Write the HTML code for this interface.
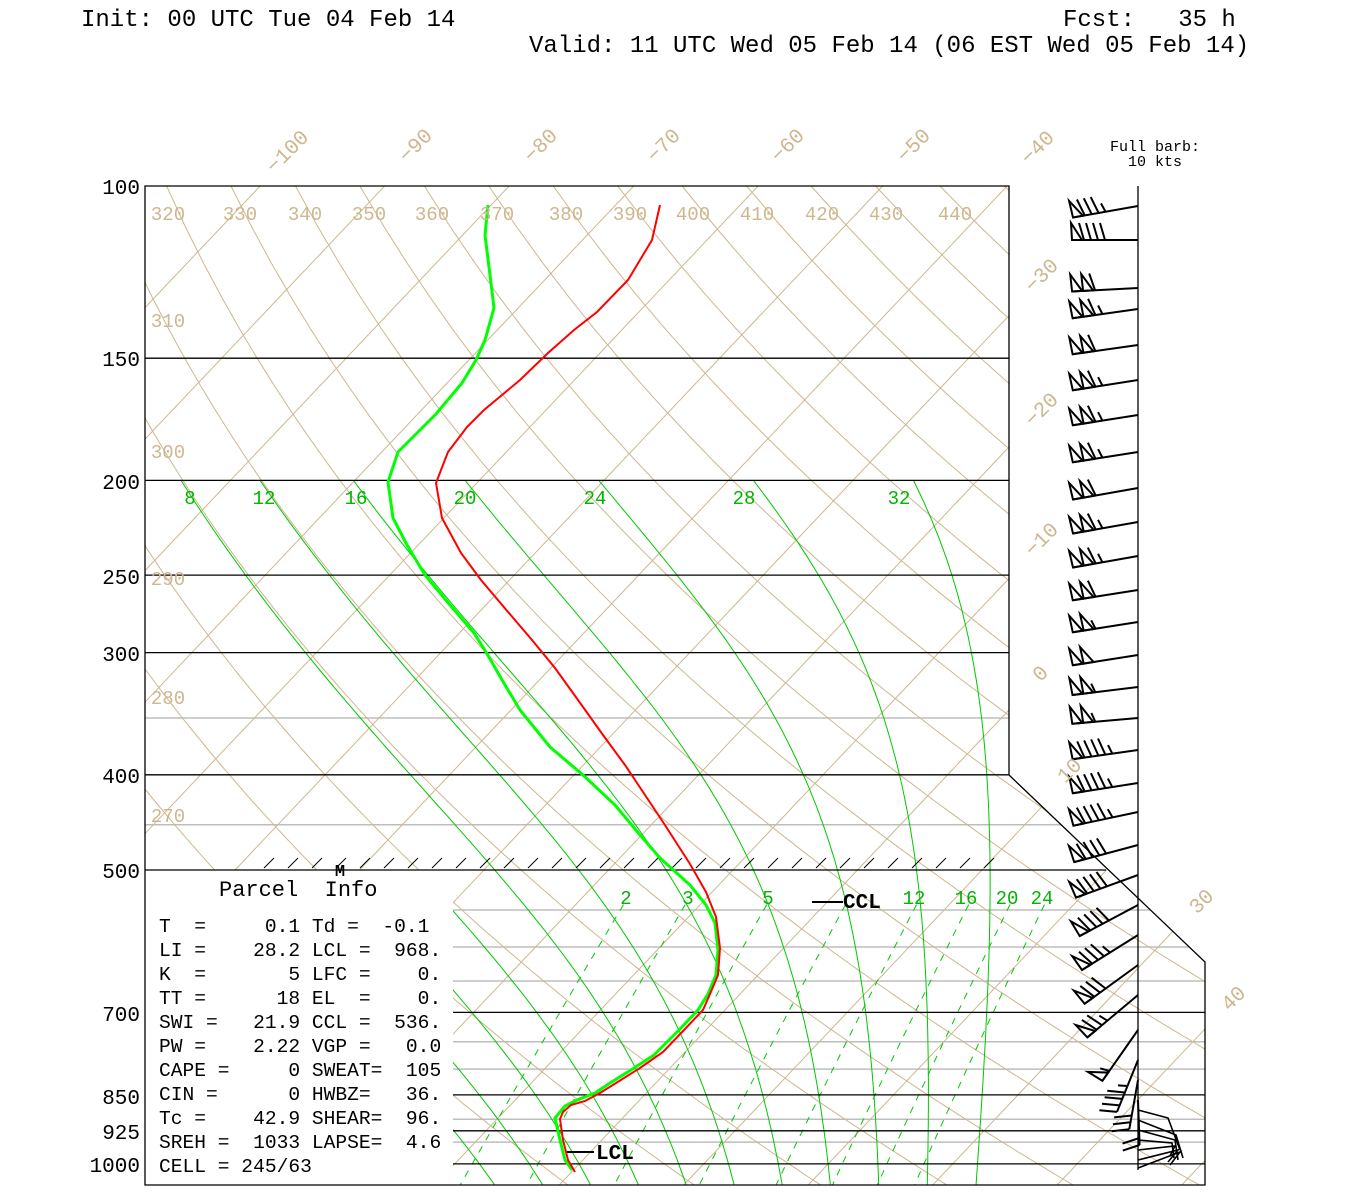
<!DOCTYPE html>
<html><head><meta charset="utf-8"><style>
html,body{margin:0;padding:0;background:#fff;width:1350px;height:1200px;overflow:hidden}
svg text{font-family:"Liberation Mono",monospace;white-space:pre}
</style></head><body>
<svg id="s" xmlns="http://www.w3.org/2000/svg" width="1350" height="1200" viewBox="0 0 1350 1200">
<defs>
<clipPath id="cp"><path d="M145,186 L1009,186 L1009,775 L1205,962 L1205,1185 L453,1185 L453,870 L145,870 Z"/></clipPath>
<clipPath id="cl"><path d="M453,870 L1112,870 L1205,962 L1205,1185 L453,1185 Z"/></clipPath>
</defs>
<g id="bg" clip-path="url(#cp)"></g>
<g id="low" clip-path="url(#cl)"></g>
<g id="frame" fill="none" stroke="#000" stroke-width="1.3"></g>
<g id="prof"></g>
<g id="barbs" stroke="#000" stroke-width="2" fill="none" stroke-linejoin="miter"></g>

<g font-size="24" fill="#000">
<text x="81" y="26">Init: 00 UTC Tue 04 Feb 14</text>
<text x="1063" y="26">Fcst:   35 h</text>
<text x="529" y="52">Valid: 11 UTC Wed 05 Feb 14 (06 EST Wed 05 Feb 14)</text>
</g>
<g font-size="15" fill="#000" text-anchor="middle">
<text x="1155" y="151">Full barb:</text>
<text x="1155" y="166">10 kts</text>
</g>
<g font-size="21" fill="#000" text-anchor="end">
<text x="140" y="194">100</text>
<text x="140" y="366">150</text>
<text x="140" y="489">200</text>
<text x="140" y="584">250</text>
<text x="140" y="661">300</text>
<text x="140" y="783">400</text>
<text x="140" y="878">500</text>
<text x="140" y="1021">700</text>
<text x="140" y="1104">850</text>
<text x="140" y="1139">925</text>
<text x="140" y="1172">1000</text>
</g>
<g font-size="19" fill="#cdb78e" text-anchor="middle">
<text x="168" y="220">320</text><text x="240" y="220">330</text><text x="305" y="220">340</text>
<text x="369" y="220">350</text><text x="432" y="220">360</text><text x="497" y="220">370</text>
<text x="566" y="220">380</text><text x="630" y="220">390</text><text x="693" y="220">400</text>
<text x="757" y="220">410</text><text x="822" y="220">420</text><text x="886" y="220">430</text>
<text x="955" y="220">440</text>
<text x="168" y="327">310</text><text x="168" y="458">300</text><text x="168" y="585">290</text>
<text x="168" y="704">280</text><text x="168" y="822">270</text>
</g>
<g font-size="21" fill="#cdb78e" text-anchor="middle">
<text transform="translate(292,156) rotate(-45)">−100</text>
<text transform="translate(420,150) rotate(-45)">−90</text>
<text transform="translate(545,150) rotate(-45)">−80</text>
<text transform="translate(668,150) rotate(-45)">−70</text>
<text transform="translate(792,150) rotate(-45)">−60</text>
<text transform="translate(918,150) rotate(-45)">−50</text>
<text transform="translate(1042,152) rotate(-45)">−40</text>
<text transform="translate(1046,280) rotate(-45)">−30</text>
<text transform="translate(1046,414) rotate(-45)">−20</text>
<text transform="translate(1046,544) rotate(-45)">−10</text>
<text transform="translate(1045,678) rotate(-45)">0</text>
<text transform="translate(1074,775) rotate(-45)">10</text>
<text transform="translate(1206,906) rotate(-45)">30</text>
<text transform="translate(1238,1003) rotate(-45)">40</text>
</g>
<g font-size="19" fill="#00b400" text-anchor="middle">
<text x="190" y="504">8</text><text x="264" y="504">12</text><text x="356" y="504">16</text>
<text x="465" y="504">20</text><text x="595" y="504">24</text><text x="744" y="504">28</text>
<text x="899" y="504">32</text>
<text x="626" y="904">2</text><text x="688" y="904">3</text><text x="768" y="904">5</text>
<text x="914" y="904">12</text><text x="966" y="904">16</text><text x="1007" y="904">20</text>
<text x="1042" y="904">24</text>
</g>
<g fill="#000">
<text x="843" y="908" font-size="21" font-weight="bold" font-family="Liberation Serif">CCL</text>
<text x="596" y="1159" font-size="21" font-weight="bold" font-family="Liberation Serif">LCL</text>
<text x="340" y="876" font-size="17" font-weight="bold" font-family="Liberation Serif" text-anchor="middle">M</text>
<text x="219" y="896" font-size="22">Parcel  Info</text>
</g>
<g font-size="19.6" fill="#000">
<text x="159" y="932">T  =     0.1 Td =  -0.1</text>
<text x="159" y="956">LI =    28.2 LCL =  968.</text>
<text x="159" y="980">K  =       5 LFC =    0.</text>
<text x="159" y="1004">TT =      18 EL  =    0.</text>
<text x="159" y="1028">SWI =   21.9 CCL =  536.</text>
<text x="159" y="1052">PW =    2.22 VGP =   0.0</text>
<text x="159" y="1076">CAPE =     0 SWEAT=  105</text>
<text x="159" y="1100">CIN =      0 HWBZ=   36.</text>
<text x="159" y="1124">Tc =    42.9 SHEAR=  96.</text>
<text x="159" y="1148">SREH =  1033 LAPSE=  4.6</text>
<text x="159" y="1172">CELL = 245/63</text>
</g>
</svg>
<script>
(function(){
var NS="http://www.w3.org/2000/svg";
function el(p,t,a){var e=document.createElementNS(NS,t);for(var k in a)e.setAttribute(k,a[k]);p.appendChild(e);return e;}
function Y(p){return 186+424.7*Math.log(p/100);}
function X(T,p){return 579+12.45*T+0.947*(1164-Y(p));}
var bg=document.getElementById('bg'),low=document.getElementById('low'),fr=document.getElementById('frame');
var tan="#cdb78e",grn="#00c800",gray="#bdbdbd";
function poly(g,pts,st,w,dash){var d=pts.map(function(q,i){return (i?'L':'M')+q[0].toFixed(1)+','+q[1].toFixed(1);}).join('');
 var a={d:d,fill:'none',stroke:st,'stroke-width':w};if(dash)a['stroke-dasharray']=dash;return el(g,'path',a);}
[350,450].forEach(function(p){poly(bg,[[145,Y(p)],[1205,Y(p)]],gray,1.5);});
[550,600,650,750,800,900,950].forEach(function(p){poly(bg,[[453,Y(p)],[1205,Y(p)]],gray,1.5);});
for(var T=-140;T<=60;T+=10){poly(bg,[[X(T,1060),Y(1060)],[X(T,90),Y(90)]],tan,1);}
for(var th=230;th<=470;th+=10){var pts=[];for(var p=1060;p>=95;p-=10){pts.push([X(th*Math.pow(p/1000,0.286)-273.15,p),Y(p)]);}poly(bg,pts,tan,1);}
function es(T){return 6.112*Math.exp(17.67*T/(T+243.5));}
function moist(tw,ptop){var Rd=287,cp=1004,Lv=2.5e6,eps=0.622;
 function step(T,p,dp){var Tk=T+273.15,rs=eps*es(T)/(p-es(T));var g=(Rd*Tk+Lv*rs)/(cp+Lv*Lv*rs*eps/(Rd*Tk*Tk))/p;return T+g*dp;}
 var T,p;
 var dn=[];T=tw;for(p=1000;p<1060;p+=2){T=step(T,p,2);}dn.push([X(T,1060),Y(1060)]);
 var up=[];T=tw;for(p=1000;p>ptop;p-=2){if(p%10==0)up.push([X(T,p),Y(p)]);T=step(T,p,-2);}up.push([X(T,ptop),Y(ptop)]);
 return dn.concat(up);}
[8,12,16,20,24,28,32].forEach(function(t){poly(bg,moist(t,200),grn,1);});
[-24,-20,-16,-12,-8,-4,0,4].forEach(function(t){poly(low,moist(t,500),grn,1);});
[2,3,5,8,12,16,20,24].forEach(function(w){var pts=[];for(var p=543;p<=1060;p+=10){var e=w*p/(622+w),l=Math.log(e/6.112),Td=243.5*l/(17.67-l);pts.push([X(Td,p),Y(p)]);}poly(low,pts,grn,1,"7,7");});
el(fr,'path',{d:"M145,186 L1009,186 L1009,775 L1205,962 L1205,1185 L145,1185 Z"});
[150,200,250,300,400].forEach(function(p){poly(fr,[[145,Y(p)],[1009,Y(p)]],'#000',1.3);});
poly(fr,[[145,870],[1106,870]],'#000',1.3);
[700,850,925,1000].forEach(function(p){poly(fr,[[453,Y(p)],[1205,Y(p)]],'#000',1.3);});
poly(fr,[[1138,186],[1138,1170]],'#000',1.3);
for(var hx=264;hx<1005;hx+=24){poly(fr,[[hx,868],[hx+10,858]],'#000',1);}
poly(fr,[[812,902],[843,902]],'#000',2);poly(fr,[[566,1152],[594,1152]],'#000',2);
var pr=document.getElementById('prof');
var red=[[660,205],[652,240],[628,280],[597,312],[574,330],[548,353],[520,380],[484,410],[467,427],[448,452],[436,483],[442,518],[461,553],[481,580],[503,606],[532,640],[555,668],[578,700],[603,735],[625,765],[645,795],[663,822],[681,850],[690,864],[706,892],[716,917],[720,948],[718,975],[710,994],[703,1010],[684,1030],[663,1052],[640,1068],[616,1083],[600,1093],[585,1101],[571,1105],[563,1112],[560,1119],[563,1140],[568,1160],[575,1172]];
var gr=[[488,205],[485,235],[490,275],[494,308],[485,340],[476,360],[462,383],[436,414],[418,432],[398,452],[388,482],[393,518],[407,545],[425,575],[450,605],[474,633],[486,652],[505,685],[520,710],[550,747],[583,775],[615,805],[640,835],[660,858],[690,885],[706,905],[715,923],[718,950],[716,975],[708,994],[698,1010],[679,1030],[654,1055],[631,1070],[610,1083],[595,1093],[577,1100],[565,1106],[555,1118],[560,1140],[565,1160],[572,1170]];
poly(pr,gr,'#00ff00',3);poly(pr,red,'#ff0000',2);
var bb=document.getElementById('barbs');
function barb(y,a,spd,L){L=L||66;var r=a*Math.PI/180,ux=-Math.cos(r),uy=Math.sin(r),px=-uy,py=ux;
 var sx=1138,sy=y;function B(d){return [sx+ux*d,sy+uy*d];}
 poly(bb,[B(0),B(L)],'#000',2);
 var d=L,n=Math.round(spd/5);var f=Math.floor(n/10);n-=f*10;var fl=Math.floor(n/2),h=n%2;
 for(var i=0;i<f;i++){var b1=B(d),b2=B(d-10);el(bb,'path',{d:'M'+b1[0].toFixed(1)+','+b1[1].toFixed(1)+'L'+(b1[0]+px*17+ux*1).toFixed(1)+','+(b1[1]+py*17+uy*1).toFixed(1)+'L'+b2[0].toFixed(1)+','+b2[1].toFixed(1)+'Z'});d-=11;}
 if(f)d-=1;
 for(i=0;i<fl;i++){var b=B(d);poly(bb,[b,[b[0]+px*17+ux*5,b[1]+py*17+uy*5]],'#000',2);d-=7;}
 if(h){if(!f&&!fl)d-=7;var b=B(d);poly(bb,[b,[b[0]+px*9+ux*3,b[1]+py*9+uy*3]],'#000',2);}
}
[[206,10,85],[240,0,90],[288,3,110],[309,8,115],[345,8,110],[380,9,115],[415,9,115],[452,9,115],[488,10,110],[522,10,115],[556,10,115],[590,9,110],[622,9,105],[655,9,100],[687,7,105],[718,5,105],[750,8,95],[783,9,95],[812,12,95],[845,15,90],[875,20,90],[905,28,90],[935,32,85],[965,36,80],[995,40,75],[1030,55,55,62],[1060,68,45,56],[1080,80,30,50],[1100,92,20,45]].forEach(function(b){barb(b[0],b[1],b[2],b[3]);});
[[1110,1168,1118,1180,1150],[1120,1176,1135,1183,1158],[1130,1175,1140,1178,1160],[1140,1172,1143,1174,1158],[1150,1175,1146,1170,1156],[1160,1178,1150,1168,1162],[1168,1180,1152,1170,1165]].forEach(function(s){poly(bb,[[1138,s[0]],[s[1],s[2]],[s[3],s[4]]],'#000',1.6);});
})();
</script>
</body></html>
